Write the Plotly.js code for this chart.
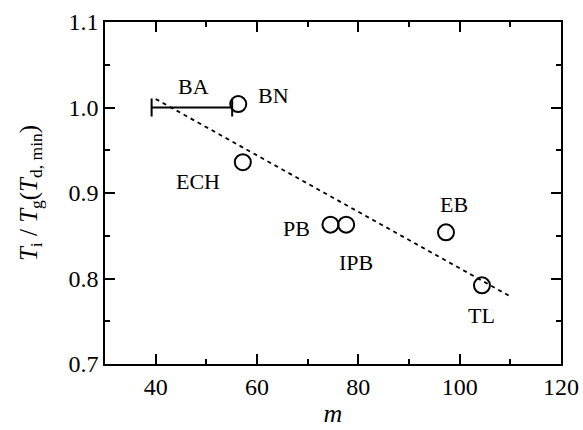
<!DOCTYPE html>
<html><head><meta charset="utf-8">
<script src="https://cdn.plot.ly/plotly-3.0.1.min.js"></script>
<style>body{margin:0;background:#fff}#c{width:583px;height:430px}</style>
</head><body><div id="c"></div>
<script>
const names = ["BN","ECH","PB","IPB","EB","TL"];
const mVals = [56.3, 57.2, 74.5, 77.6, 97.3, 104.4];
const ratio = [1.004, 0.936, 0.863, 0.863, 0.854, 0.792];
const baRange = [39.2, 55.1];
const baRatio = 1.0;
const fitX = [40, 110];
const fitY = [1.010, 0.779];
const labelX = [63.3, 48.3, 67.8, 79.6, 98.9, 104.3];
const labelY = [1.0146, 0.913, 0.859, 0.819, 0.886, 0.757];
const baLabel = {x: 47.5, y: 1.024, text: "BA"};
const xTicks = [40, 60, 80, 100, 120];
const xMinor = [30, 50, 70, 90, 110];
const yTicks = [0.7, 0.8, 0.9, 1.0, 1.1];
const yTickText = ["0.7", "0.8", "0.9", "1.0", "1.1"];
const yMinor = [0.75, 0.85, 0.95, 1.05];

const FAM = "Liberation Serif";
function fnt(sz) { return {family: FAM, size: sz, color: "#000000"}; }

const traces = [
  {x: fitX, y: fitY, mode: "lines", line: {color: "black", width: 1.8, dash: "4px,4px"}, hoverinfo: "skip"},
  {x: [(baRange[0]+baRange[1])/2], y: [baRatio], mode: "markers", marker: {size: 1, opacity: 0},
   error_x: {type: "data", array: [(baRange[1]-baRange[0])/2], color: "black", thickness: 2, width: 9}},
  {x: mVals, y: ratio, mode: "markers",
   marker: {symbol: "circle-open", size: 16, color: "black", line: {width: 2, color: "black"}}}
];
const annotations = names.map((n, i) => ({x: labelX[i], y: labelY[i], text: n, showarrow: false, font: fnt(22)}));
annotations.push({x: baLabel.x, y: baLabel.y, text: baLabel.text, showarrow: false, font: fnt(22)});

function axis(range, tv, tt, mv, title) {
  return {range: range, showgrid: false, zeroline: false, showline: true, linecolor: "black", linewidth: 1.5,
    mirror: "allticks", ticks: "inside", ticklen: 10, tickwidth: 1.5, tickcolor: "black",
    tickmode: "array", tickvals: tv, ticktext: tt, tickfont: fnt(24),
    minor: {ticks: "inside", ticklen: 5, tickwidth: 1.5, tickcolor: "black", tickvals: mv},
    title: title};
}
const layout = {
  width: 583, height: 430, showlegend: false,
  paper_bgcolor: "white", plot_bgcolor: "white",
  margin: {l: 105, r: 22, t: 22, b: 66},
  xaxis: axis([30, 120], xTicks, xTicks.map(String), xMinor, {text: "<i>m</i>", font: fnt(26), standoff: 5}),
  yaxis: axis([0.7, 1.1], yTicks, yTickText, yMinor,
    {text: "<i>T</i><sub>i</sub> / <i>T</i><sub>g</sub>(<i>T</i><sub>d, min</sub>)", font: fnt(25), standoff: 24}),
  annotations: annotations
};
Plotly.newPlot("c", traces, layout, {displayModeBar: false});
</script></body></html>
